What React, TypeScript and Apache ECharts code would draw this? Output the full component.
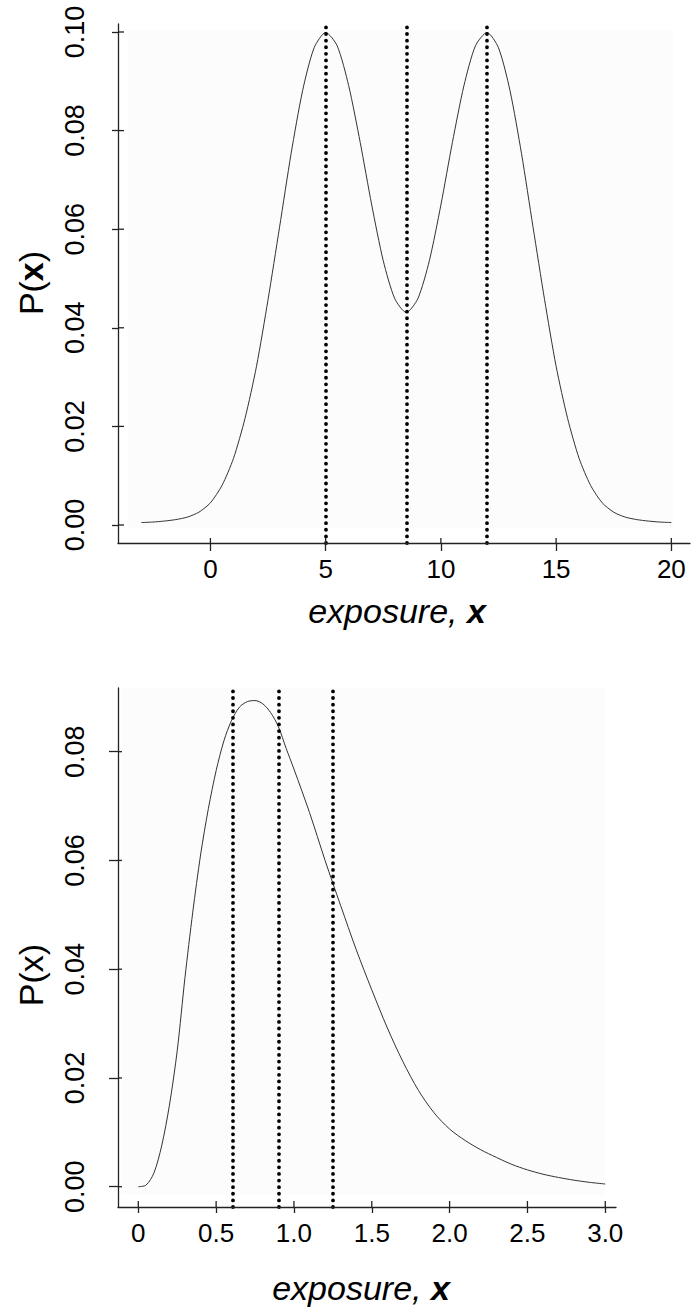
import React, { useEffect, useRef } from 'react';
import * as echarts from 'echarts';

// ---- Top chart: bimodal exposure distribution ----
const topX = [-3, -2.5, -2, -1.5, -1, -0.5, 0, 0.5, 1, 1.5, 2, 2.5, 3, 3.5, 4, 4.5, 5, 5.5, 6, 6.5, 7, 7.5, 8, 8.5, 9, 9.5, 10, 10.5, 11, 11.5, 12, 12.5, 13, 13.5, 14, 14.5, 15, 15.5, 16, 16.5, 17, 17.5, 18, 18.5, 19, 19.5, 20];
const topY = [0.0005, 0.0006, 0.0008, 0.0011, 0.0016, 0.0026, 0.0045, 0.008, 0.0135, 0.0216, 0.0322, 0.0457, 0.0604, 0.0753, 0.0881, 0.0968, 0.0999, 0.0972, 0.0891, 0.0776, 0.0649, 0.0536, 0.0459, 0.0431, 0.0459, 0.0536, 0.0649, 0.0776, 0.0891, 0.0972, 0.0999, 0.0968, 0.0881, 0.0753, 0.0604, 0.0457, 0.0322, 0.0216, 0.0135, 0.008, 0.0045, 0.0026, 0.0016, 0.0011, 0.0008, 0.0006, 0.0005];
const topMarkers = [5, 8.5, 12];
const topXTicks = [0, 5, 10, 15, 20];
const topYTicks = [0, 0.02, 0.04, 0.06, 0.08, 0.1];

// ---- Bottom chart: skewed exposure distribution ----
const botX = [0, 0.05, 0.1, 0.15, 0.2, 0.25, 0.3, 0.35, 0.4, 0.45, 0.5, 0.55, 0.6, 0.65, 0.7, 0.75, 0.8, 0.85, 0.9, 0.95, 1.0, 1.1, 1.2, 1.25, 1.3, 1.4, 1.5, 1.6, 1.7, 1.8, 1.9, 2.0, 2.1, 2.2, 2.3, 2.4, 2.5, 2.6, 2.7, 2.8, 2.9, 3.0];
const botY = [0.0, 0.0003, 0.0025, 0.0075, 0.015, 0.025, 0.0385, 0.0505, 0.061, 0.0695, 0.0765, 0.082, 0.0858, 0.0882, 0.0892, 0.0894, 0.0888, 0.0872, 0.0846, 0.0806, 0.0768, 0.0688, 0.06, 0.0558, 0.0517, 0.0436, 0.0362, 0.0292, 0.0230, 0.0177, 0.0136, 0.0106, 0.0085, 0.0068, 0.0054, 0.0041, 0.0031, 0.0023, 0.0017, 0.0012, 0.0008, 0.0005];
const botMarkers = [0.61, 0.9, 1.25];
const botXTicks = [0, 0.5, 1, 1.5, 2, 2.5, 3];
const botYTicks = [0, 0.02, 0.04, 0.06, 0.08];

// axis ranges
const topXRange = [-4.01, 20.81];
const topYRange = [-0.00365, 0.10162];
const botXRange = [-0.1304, 3.069];
const botYRange = [-0.00373, 0.09171];

const FONT = 'Liberation Sans, Arial, Helvetica, sans-serif';
const AX = '#222';

function pairs(xs: number[], ys: number[]) {
  return xs.map((x, i) => [x, ys[i]]);
}

function xAxis(grid: number, range: number[], ticks: number[], outLen: number, fmt: (v: number) => string) {
  return {
    gridIndex: grid, type: 'value', min: range[0], max: range[1], position: 'bottom', z: 10,
    axisLine: { show: true, onZero: false, lineStyle: { color: AX, width: 1.3 } },
    axisTick: { show: true, length: outLen, customValues: ticks, lineStyle: { color: AX, width: 1.3 } },
    axisLabel: { customValues: ticks, fontSize: 26, color: '#000', fontFamily: FONT, margin: 13, formatter: fmt },
    splitLine: { show: false },
  };
}

function yAxis(grid: number, range: number[], ticks: number[], outLen: number) {
  return {
    gridIndex: grid, type: 'value', min: range[0], max: range[1], position: 'left', z: 10,
    axisLine: { show: true, onZero: false, lineStyle: { color: AX, width: 1.3 } },
    axisTick: { show: true, length: outLen, customValues: ticks, lineStyle: { color: AX, width: 1.3 } },
    axisLabel: { customValues: ticks, fontSize: 27, color: '#000', fontFamily: FONT, margin: 30, rotate: 90, formatter: (v: number) => v.toFixed(2) },
    splitLine: { show: false },
  };
}

// inward half of the crossing ticks, positioned through the axes' own scales
function innerTicks(axisIdx: number, values: number[], horizontal: boolean, base: number, len: number) {
  return {
    type: 'custom', xAxisIndex: axisIdx, yAxisIndex: axisIdx, z: 12, silent: true, clip: false,
    data: values.map((v) => (horizontal ? [v, base] : [base, v])),
    renderItem: (params: any, api: any) => {
      const p = api.coord([api.value(0), api.value(1)]);
      return horizontal
        ? { type: 'line', shape: { x1: p[0], y1: p[1], x2: p[0], y2: p[1] - len }, style: { stroke: AX, lineWidth: 1.3 } }
        : { type: 'line', shape: { x1: p[0], y1: p[1], x2: p[0] + len, y2: p[1] }, style: { stroke: AX, lineWidth: 1.3 } };
    },
  };
}

const dotStyle = { color: '#000', width: 3.8, type: [0.01, 6.6], cap: 'round' };

export default function App() {
  const ref = useRef<HTMLDivElement>(null);
  useEffect(() => {
    if (!ref.current) return;
    const chart = echarts.init(ref.current, null, { renderer: 'svg' });
    const option: any = {
      animation: false,
      backgroundColor: '#ffffff',
      grid: [
        { left: 118, top: 24, width: 572, height: 519, containLabel: false, outerBoundsMode: 'none' },
        { left: 118, top: 688, width: 498, height: 519, containLabel: false, outerBoundsMode: 'none' },
      ],
      xAxis: [
        xAxis(0, topXRange, topXTicks, 8, (v: number) => String(v)),
        xAxis(1, botXRange, botXTicks, 6, (v: number) => (v === 0 ? '0' : v.toFixed(1))),
      ],
      yAxis: [
        yAxis(0, topYRange, topYTicks, 6),
        yAxis(1, botYRange, botYTicks, 9),
      ],
      series: [
        {
          type: 'line', xAxisIndex: 0, yAxisIndex: 0,
          data: pairs(topX, topY), showSymbol: false, smooth: 0.25,
          lineStyle: { color: '#333', width: 1 },
          markArea: {
            silent: true, itemStyle: { color: '#fcfcfc' },
            data: [[{ xAxis: -3.58, yAxis: -0.0006 }, { xAxis: 20.08, yAxis: 0.1004 }]],
          },
          markLine: {
            silent: true, symbol: ['none', 'none'], label: { show: false },
            lineStyle: dotStyle,
            data: topMarkers.map((v) => ({ xAxis: v })),
          },
        },
        {
          type: 'line', xAxisIndex: 1, yAxisIndex: 1,
          data: pairs(botX, botY), showSymbol: false, smooth: 0.3,
          lineStyle: { color: '#333', width: 1 },
          markArea: {
            silent: true, itemStyle: { color: '#fcfcfc' },
            data: [[{ xAxis: -0.107, yAxis: -0.0015 }, { xAxis: 2.996, yAxis: 0.0917 }]],
          },
          markLine: {
            silent: true, symbol: ['none', 'none'], label: { show: false },
            lineStyle: dotStyle,
            data: botMarkers.map((v) => ({ xAxis: v })),
          },
        },
        innerTicks(0, topXTicks, true, topYRange[0], 5),
        innerTicks(0, topYTicks, false, topXRange[0], 6),
        innerTicks(1, botXTicks, true, botYRange[0], 6),
        innerTicks(1, botYTicks, false, botXRange[0], 4),
      ],
      graphic: [
        {
          type: 'text', x: 397, y: 611,
          style: {
            text: '{i|exposure, }{b|x}',
            fill: '#000', align: 'center', verticalAlign: 'middle',
            fontSize: 34, fontFamily: FONT,
            rich: {
              i: { fontStyle: 'italic', fontSize: 34, fontFamily: FONT, fill: '#000' },
              b: { fontStyle: 'italic', fontWeight: 'bold', fontSize: 34, fontFamily: FONT, fill: '#000' },
            },
          },
        },
        {
          type: 'text', x: 361, y: 1288,
          style: {
            text: '{i|exposure, }{b|x}',
            fill: '#000', align: 'center', verticalAlign: 'middle',
            fontSize: 34, fontFamily: FONT,
            rich: {
              i: { fontStyle: 'italic', fontSize: 34, fontFamily: FONT, fill: '#000' },
              b: { fontStyle: 'italic', fontWeight: 'bold', fontSize: 34, fontFamily: FONT, fill: '#000' },
            },
          },
        },
        {
          type: 'text', x: 31, y: 283, rotation: Math.PI / 2,
          style: {
            text: '{n|P(}{b|x}{n|)}',
            fill: '#000', align: 'center', verticalAlign: 'middle',
            fontSize: 34, fontFamily: FONT,
            rich: {
              n: { fontSize: 34, fontFamily: FONT, fill: '#000' },
              b: { fontWeight: 'bold', fontSize: 34, fontFamily: FONT, fill: '#000' },
            },
          },
        },
        {
          type: 'text', x: 31, y: 975, rotation: Math.PI / 2,
          style: {
            text: 'P(x)',
            fill: '#000', align: 'center', verticalAlign: 'middle',
            fontSize: 34, fontFamily: FONT,
          },
        },
      ],
    };
    chart.setOption(option);
    return () => chart.dispose();
  }, []);
  return <div ref={ref} style={{ position: 'absolute', left: 0, top: 0, width: 693, height: 1310 }} />;
}
